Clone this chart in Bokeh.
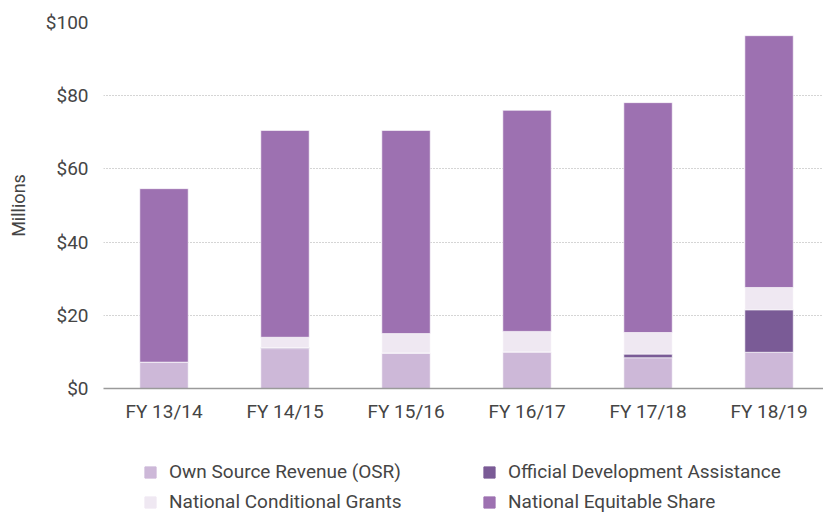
from bokeh.plotting import figure
from bokeh.layouts import column
from bokeh.models import Range1d, FixedTicker, Legend, LegendItem, ColumnDataSource
from bokeh.embed import file_html
from bokeh.resources import INLINE

categories = ["FY 13/14", "FY 14/15", "FY 15/16", "FY 16/17", "FY 17/18", "FY 18/19"]
osr = [7.2, 10.9, 9.7, 10.0, 8.4, 9.9]
oda = [0.0, 0.3, 0.0, 0.0, 1.0, 11.6]
ncg = [0.0, 2.8, 5.3, 5.6, 5.9, 6.1]
nes = [47.4, 56.5, 55.5, 60.4, 62.8, 68.8]
series_keys = ["osr", "oda", "ncg", "nes"]
series_names = ["Own Source Revenue (OSR)", "Official Development Assistance",
                "National Conditional Grants", "National Equitable Share"]
series_colors = ["#cdb8d8", "#7a5b96", "#efe8f2", "#9d71b1"]
y_ticks = [0, 20, 40, 60, 80, 100]
y_labels = ["$0", "$20", "$40", "$60", "$80", "$100"]

FONT = "Roboto"
TXT = "#454545"

xs = list(range(len(categories)))
src = ColumnDataSource(dict(x=xs, osr=osr, oda=oda, ncg=ncg, nes=nes))

# ---------------- main chart ----------------
p = figure(width=823, height=430, output_backend="svg", toolbar_location=None,
           x_range=Range1d(-0.5, 5.45), y_range=Range1d(0, 100),
           min_border_left=103, min_border_right=0, min_border_top=22,
           min_border_bottom=42)
p.outline_line_color = None
p.background_fill_color = "white"

p.vbar_stack(series_keys, x="x", width=0.4, source=src,
             color=series_colors, line_color="white", line_width=0.6)

p.xaxis.ticker = FixedTicker(ticks=xs)
p.xaxis.major_label_overrides = {i: c for i, c in enumerate(categories)}
p.yaxis.ticker = FixedTicker(ticks=y_ticks)
p.yaxis.major_label_overrides = {t: l for t, l in zip(y_ticks, y_labels)}
for ax in (p.xaxis[0], p.yaxis[0]):
    ax.major_tick_line_color = None
    ax.minor_tick_line_color = None
    ax.major_tick_out = 0
    ax.major_tick_in = 0
    ax.minor_tick_out = 0
    ax.minor_tick_in = 0
    ax.major_label_text_font = FONT
    ax.major_label_text_font_size = "19px"
    ax.major_label_text_color = TXT
p.xaxis.axis_line_color = "#9a9a9a"
p.xaxis.axis_line_width = 1.6
p.xaxis.major_label_standoff = 11
p.yaxis.axis_line_color = None
p.yaxis.major_label_standoff = 15
p.yaxis.axis_label = "Millions"
p.yaxis.axis_label_text_font = FONT
p.yaxis.axis_label_text_font_size = "18px"
p.yaxis.axis_label_text_font_style = "normal"
p.yaxis.axis_label_text_color = TXT
p.yaxis.axis_label_standoff = 14

p.xgrid.grid_line_color = None
p.ygrid.grid_line_color = "#ababab"
p.ygrid.grid_line_dash = "1 2"
p.ygrid.grid_line_width = 1

# ---------------- legend strip ----------------
lf = figure(width=823, height=83, output_backend="svg", toolbar_location=None,
            x_range=Range1d(0, 1), y_range=Range1d(0, 1),
            x_axis_type=None, y_axis_type=None,
            min_border_left=0, min_border_right=0, min_border_top=0,
            min_border_bottom=0)
lf.outline_line_color = None
lf.xgrid.grid_line_color = None
lf.ygrid.grid_line_color = None

# hidden renderers that only supply the legend swatches
swatch = {}
for k, c in zip(series_keys, series_colors):
    swatch[k] = lf.vbar(x="x", top=k, width=0.4, source=src, color=c, visible=False)
names = dict(zip(series_keys, series_names))


def make_legend(keys, x):
    lg = Legend(items=[LegendItem(label=names[k], renderers=[swatch[k]]) for k in keys],
                location=(x, 0), orientation="vertical",
                glyph_width=14, glyph_height=14, label_height=21,
                label_standoff=12, spacing=7, padding=0, margin=0,
                label_text_font=FONT, label_text_font_size="19px",
                label_text_color=TXT, background_fill_alpha=0,
                border_line_color=None, inactive_fill_alpha=0)
    lf.add_layout(lg, "center")


make_legend(["osr", "ncg"], 40)
make_legend(["oda", "nes"], 379)

layout = column(p, lf, spacing=0)
open("out.html", "w").write(file_html(layout, INLINE))
